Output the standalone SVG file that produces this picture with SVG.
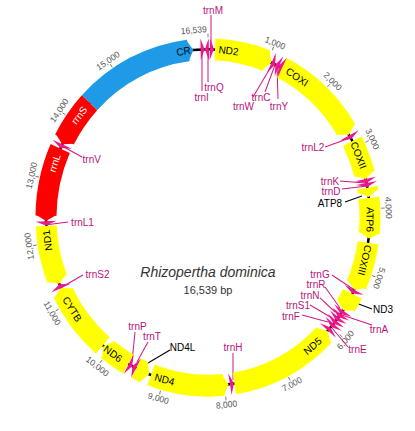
<svg xmlns="http://www.w3.org/2000/svg" xmlns:xlink="http://www.w3.org/1999/xlink" width="415" height="431" viewBox="0 0 415 431">
<style>
text{font-family:"Liberation Sans",Arial,sans-serif;text-anchor:middle}
.bd{fill:none;stroke-width:21}
.Y{stroke:#ffff00}.R{stroke:#ff0000}.B{stroke:#1e9ae6}
.hY{fill:#ffff00}.hR{fill:#ff0000}.hB{fill:#1e9ae6}
.t{fill:#ee168b}
.g{font-size:10px;fill:#000}
.w{font-size:10px;fill:#fff}
.tl{font-size:10px;fill:#b8137c}
.x{font-size:10px;fill:#000}
.k{font-size:8.5px;fill:#555}
.tk{stroke:#666;stroke-width:0.8}
.ln{stroke:#d0187f;stroke-width:1;fill:none}
.lk{stroke:#000;stroke-width:1.1;fill:none}
</style>
<defs>
<line id="tick" class="tk" x1="208" y1="32.4" x2="208" y2="36"/>
<polygon id="hcw" points="201.62,37.02 208,47.4 202.4,58"/>
<polygon id="hcc" points="214.38,37.02 208,47.4 213.6,58"/>
<polygon id="tcw" points="204,37 208,47.4 204,58"/>
<polygon id="tcc" points="212,37 208,47.4 212,58"/>
</defs>
<rect width="415" height="431" fill="#fff"/>
<g transform="scale(1,1.0386)">
<circle id="backbone" cx="208" cy="209.4" r="162" fill="none" stroke="#000" stroke-width="2.5"/>

<g id="ticks">
<use xlink:href="#tick"/>
<use xlink:href="#tick" transform="rotate(21.77 208 209.4)"/>
<use xlink:href="#tick" transform="rotate(43.53 208 209.4)"/>
<use xlink:href="#tick" transform="rotate(65.30 208 209.4)"/>
<use xlink:href="#tick" transform="rotate(87.06 208 209.4)"/>
<use xlink:href="#tick" transform="rotate(108.83 208 209.4)"/>
<use xlink:href="#tick" transform="rotate(130.59 208 209.4)"/>
<use xlink:href="#tick" transform="rotate(152.36 208 209.4)"/>
<use xlink:href="#tick" transform="rotate(174.13 208 209.4)"/>
<use xlink:href="#tick" transform="rotate(195.90 208 209.4)"/>
<use xlink:href="#tick" transform="rotate(217.66 208 209.4)"/>
<use xlink:href="#tick" transform="rotate(239.43 208 209.4)"/>
<use xlink:href="#tick" transform="rotate(261.19 208 209.4)"/>
<use xlink:href="#tick" transform="rotate(282.96 208 209.4)"/>
<use xlink:href="#tick" transform="rotate(304.72 208 209.4)"/>
<use xlink:href="#tick" transform="rotate(326.49 208 209.4)"/>
<text class="k" transform="rotate(-4.5 208 209.4)" x="208" y="28.4" dy=".35em">16,539</text>
<text class="k" transform="rotate(21.77 208 209.4)" x="208" y="28.4" dy=".35em">1,000</text>
<text class="k" transform="rotate(43.53 208 209.4)" x="208" y="28.4" dy=".35em">2,000</text>
<text class="k" transform="rotate(65.30 208 209.4)" x="208" y="28.4" dy=".35em">3,000</text>
<text class="k" transform="rotate(87.06 208 209.4)" x="208" y="28.4" dy=".35em">4,000</text>
<text class="k" transform="rotate(108.83 208 209.4)" x="208" y="28.4" dy=".35em">5,000</text>
<text class="k" transform="rotate(-49.41 208 209.4)" x="208" y="390.4" dy=".35em">6,000</text>
<text class="k" transform="rotate(-27.64 208 209.4)" x="208" y="390.4" dy=".35em">7,000</text>
<text class="k" transform="rotate(-5.87 208 209.4)" x="208" y="390.4" dy=".35em">8,000</text>
<text class="k" transform="rotate(15.90 208 209.4)" x="208" y="390.4" dy=".35em">9,000</text>
<text class="k" transform="rotate(37.66 208 209.4)" x="208" y="390.4" dy=".35em">10,000</text>
<text class="k" transform="rotate(59.43 208 209.4)" x="208" y="390.4" dy=".35em">11,000</text>
<text class="k" transform="rotate(261.19 208 209.4)" x="208" y="28.4" dy=".35em">12,000</text>
<text class="k" transform="rotate(282.96 208 209.4)" x="208" y="28.4" dy=".35em">13,000</text>
<text class="k" transform="rotate(304.72 208 209.4)" x="208" y="28.4" dy=".35em">14,000</text>
<text class="k" transform="rotate(326.49 208 209.4)" x="208" y="28.4" dy=".35em">15,000</text>
</g>

<g id="connectors">
<line class="ln" x1="211" y1="14.4" x2="211" y2="47.4"/>
<line class="ln" x1="202" y1="87.6" x2="202" y2="48"/>
<line class="ln" x1="208" y1="79" x2="208" y2="48"/>
<line class="ln" x1="253" y1="93.4" x2="272" y2="62.6"/>
<line class="ln" x1="265" y1="88.6" x2="275" y2="62.6"/>
<line class="ln" x1="278" y1="95.3" x2="277" y2="62.6"/>
<line class="ln" x1="325" y1="141.5" x2="350" y2="132.9"/>
<line class="ln" x1="340" y1="174.3" x2="365" y2="176.2"/>
<line class="ln" x1="342" y1="182" x2="367" y2="179"/>
<line class="lk" x1="345" y1="194.5" x2="362" y2="188.7"/>
<line class="ln" x1="332" y1="264.8" x2="353" y2="278.3"/>
<line class="ln" x1="325" y1="276.3" x2="340" y2="296.6"/>
<line class="ln" x1="320" y1="286.9" x2="335" y2="300.4"/>
<line class="ln" x1="310" y1="293.7" x2="332" y2="306.2"/>
<line class="ln" x1="302" y1="303.3" x2="328" y2="310"/>
<line class="lk" x1="356" y1="291.7" x2="372" y2="297.5"/>
<line class="ln" x1="372" y1="312.9" x2="342" y2="303.3"/>
<line class="ln" x1="348" y1="334.1" x2="332" y2="315.8"/>
<line class="ln" x1="233" y1="339.9" x2="233" y2="365.9"/>
<line class="lk" x1="170" y1="337" x2="148" y2="349.5"/>
<line class="ln" x1="135" y1="319.7" x2="132" y2="348.5"/>
<line class="ln" x1="148" y1="329.3" x2="137" y2="348.5"/>
<line class="ln" x1="83" y1="264.8" x2="62" y2="276.3"/>
<line class="ln" x1="68" y1="213.8" x2="45" y2="216.6"/>
<line class="ln" x1="82" y1="151.2" x2="62" y2="140.6"/>
</g>

<g id="CR"><circle class="bd B" cx="208" cy="209.4" r="162" pathLength="360" transform="rotate(-90 208 209.4)" stroke-dasharray="39.98 400" stroke-dashoffset="-313"/><use xlink:href="#hcw" class="hB" transform="rotate(354.8 208 209.4)"/><text class="g" transform="rotate(351.3 208 209.4)" x="208" y="47.4" dy=".35em">CR</text></g>
<g id="ND2"><circle class="bd Y" cx="208" cy="209.4" r="162" pathLength="360" transform="rotate(-90 208 209.4)" stroke-dasharray="18.68 400" stroke-dashoffset="-2.5"/><use xlink:href="#hcw" class="hY" transform="rotate(23 208 209.4)"/><text class="g" transform="rotate(7.3 208 209.4)" x="208" y="47.4" dy=".35em">ND2</text></g>
<g id="COXI"><circle class="bd Y" cx="208" cy="209.4" r="162" pathLength="360" transform="rotate(-90 208 209.4)" stroke-dasharray="31.68 400" stroke-dashoffset="-27"/><use xlink:href="#hcw" class="hY" transform="rotate(60.5 208 209.4)"/><text class="g" transform="rotate(33.4 208 209.4)" x="208" y="47.4" dy=".35em">COXI</text></g>
<g id="COXII"><circle class="bd Y" cx="208" cy="209.4" r="162" pathLength="360" transform="rotate(-90 208 209.4)" stroke-dasharray="11.98 400" stroke-dashoffset="-63"/><use xlink:href="#hcw" class="hY" transform="rotate(76.8 208 209.4)"/><text class="g" transform="rotate(68.3 208 209.4)" x="208" y="47.4" dy=".35em">COXII</text></g>
<g id="ATP8"><circle class="bd Y" cx="208" cy="209.4" r="162" pathLength="360" transform="rotate(-90 208 209.4)" stroke-dasharray="1.38 400" stroke-dashoffset="-79.8"/><use xlink:href="#hcw" class="hY" transform="rotate(83 208 209.4)"/><text class="x" x="330" y="195.5" dy=".35em">ATP8</text></g>
<g id="ATP6"><circle class="bd Y" cx="208" cy="209.4" r="162" pathLength="360" transform="rotate(-90 208 209.4)" stroke-dasharray="12.08 400" stroke-dashoffset="-83.3"/><use xlink:href="#hcw" class="hY" transform="rotate(97.2 208 209.4)"/><text class="g" transform="rotate(90.7 208 209.4)" x="208" y="47.4" dy=".35em">ATP6</text></g>
<g id="COXIII"><circle class="bd Y" cx="208" cy="209.4" r="162" pathLength="360" transform="rotate(-90 208 209.4)" stroke-dasharray="14.88 400" stroke-dashoffset="-98.7"/><use xlink:href="#hcw" class="hY" transform="rotate(115.4 208 209.4)"/><text class="g" transform="rotate(104.7 208 209.4)" x="208" y="47.4" dy=".35em">COXIII</text></g>
<g id="ND3"><circle class="bd Y" cx="208" cy="209.4" r="162" pathLength="360" transform="rotate(-90 208 209.4)" stroke-dasharray="4.68 400" stroke-dashoffset="-117"/><use xlink:href="#hcw" class="hY" transform="rotate(123.5 208 209.4)"/><text class="x" x="383" y="297.5" dy=".35em">ND3</text></g>
<g id="ND5"><circle class="bd Y" cx="208" cy="209.4" r="162" pathLength="360" transform="rotate(-90 208 209.4)" stroke-dasharray="36.38 400" stroke-dashoffset="-134.22"/><use xlink:href="#hcc" class="hY" transform="rotate(132.4 208 209.4)"/><text class="g" transform="rotate(-40.2 208 209.4)" x="208" y="371.4" dy=".35em">ND5</text></g>
<g id="ND4"><circle class="bd Y" cx="208" cy="209.4" r="162" pathLength="360" transform="rotate(-90 208 209.4)" stroke-dasharray="26.08 400" stroke-dashoffset="-174.52"/><use xlink:href="#hcc" class="hY" transform="rotate(172.7 208 209.4)"/><text class="g" transform="rotate(15.5 208 209.4)" x="208" y="371.4" dy=".35em">ND4</text></g>
<g id="ND4L"><circle class="bd Y" cx="208" cy="209.4" r="162" pathLength="360" transform="rotate(-90 208 209.4)" stroke-dasharray="3.18 400" stroke-dashoffset="-203.12"/><use xlink:href="#hcc" class="hY" transform="rotate(201.3 208 209.4)"/><text class="x" x="182.5" y="334.6" dy=".35em">ND4L</text></g>
<g id="ND6"><circle class="bd Y" cx="208" cy="209.4" r="162" pathLength="360" transform="rotate(-90 208 209.4)" stroke-dasharray="8.88 400" stroke-dashoffset="-209.5"/><use xlink:href="#hcw" class="hY" transform="rotate(220.2 208 209.4)"/><text class="g" transform="rotate(35.9 208 209.4)" x="208" y="371.4" dy=".35em">ND6</text></g>
<g id="CYTB"><circle class="bd Y" cx="208" cy="209.4" r="162" pathLength="360" transform="rotate(-90 208 209.4)" stroke-dasharray="22.98 400" stroke-dashoffset="-220.5"/><use xlink:href="#hcw" class="hY" transform="rotate(245.3 208 209.4)"/><text class="g" transform="rotate(57 208 209.4)" x="208" y="371.4" dy=".35em">CYTB</text></g>
<g id="ND1"><circle class="bd Y" cx="208" cy="209.4" r="162" pathLength="360" transform="rotate(-90 208 209.4)" stroke-dasharray="18.48 400" stroke-dashoffset="-248.62"/><use xlink:href="#hcc" class="hY" transform="rotate(246.8 208 209.4)"/><text class="g" transform="rotate(262.2 208 209.4)" x="208" y="47.4" dy=".35em">ND1</text></g>
<g id="rrnL"><circle class="bd R" cx="208" cy="209.4" r="162" pathLength="360" transform="rotate(-90 208 209.4)" stroke-dasharray="23.58 400" stroke-dashoffset="-270.62"/><use xlink:href="#hcc" class="hR" transform="rotate(268.8 208 209.4)"/><text class="w" transform="rotate(288.9 208 209.4)" x="208" y="47.4" dy=".35em">rrnL</text></g>
<g id="rrnS"><circle class="bd R" cx="208" cy="209.4" r="162" pathLength="360" transform="rotate(-90 208 209.4)" stroke-dasharray="15.38 400" stroke-dashoffset="-297.62"/><use xlink:href="#hcc" class="hR" transform="rotate(295.8 208 209.4)"/><text class="w" transform="rotate(307.4 208 209.4)" x="208" y="47.4" dy=".35em">rrnS</text></g>

<g id="trnI"><use xlink:href="#tcw" class="t" transform="rotate(358.8 208 209.4)"/><text class="tl" x="201.7" y="93.9" dy=".35em">trnI</text></g>
<g id="trnQ"><use xlink:href="#tcc" class="t" transform="rotate(358.9 208 209.4)"/><text class="tl" x="214" y="83.8" dy=".35em">trnQ</text></g>
<g id="trnM"><use xlink:href="#tcw" class="t" transform="rotate(2.1 208 209.4)"/><text class="tl" x="213" y="10.4" dy=".35em">trnM</text></g>
<g id="trnW"><use xlink:href="#tcw" class="t" transform="rotate(24.5 208 209.4)"/><text class="tl" x="243.5" y="102.1" dy=".35em">trnW</text></g>
<g id="trnC"><use xlink:href="#tcc" class="t" transform="rotate(24.6 208 209.4)"/><text class="tl" x="261" y="93.9" dy=".35em">trnC</text></g>
<g id="trnY"><use xlink:href="#tcc" class="t" transform="rotate(25.8 208 209.4)"/><text class="tl" x="279" y="102.1" dy=".35em">trnY</text></g>
<g id="trnL2"><use xlink:href="#tcw" class="t" transform="rotate(62.2 208 209.4)"/><text class="tl" x="313" y="142" dy=".35em">trnL2</text></g>
<g id="trnK"><use xlink:href="#tcw" class="t" transform="rotate(78.2 208 209.4)"/><text class="tl" x="330" y="174.3" dy=".35em">trnK</text></g>
<g id="trnD"><use xlink:href="#tcw" class="t" transform="rotate(79.6 208 209.4)"/><text class="tl" x="331" y="183.9" dy=".35em">trnD</text></g>
<g id="trnG"><use xlink:href="#tcw" class="t" transform="rotate(116.9 208 209.4)"/><text class="tl" x="320" y="263.8" dy=".35em">trnG</text></g>
<g id="trnA"><use xlink:href="#tcw" class="t" transform="rotate(125 208 209.4)"/><text class="tl" x="379" y="316.8" dy=".35em">trnA</text></g>
<g id="trnR"><use xlink:href="#tcw" class="t" transform="rotate(126.4 208 209.4)"/><text class="tl" x="316" y="273.4" dy=".35em">trnR</text></g>
<g id="trnN"><use xlink:href="#tcw" class="t" transform="rotate(127.8 208 209.4)"/><text class="tl" x="310" y="284.5" dy=".35em">trnN</text></g>
<g id="trnS1"><use xlink:href="#tcw" class="t" transform="rotate(129.2 208 209.4)"/><text class="tl" x="298" y="294.1" dy=".35em">trnS1</text></g>
<g id="trnE"><use xlink:href="#tcw" class="t" transform="rotate(130.6 208 209.4)"/><text class="tl" x="357.5" y="336" dy=".35em">trnE</text></g>
<g id="trnF"><use xlink:href="#tcc" class="t" transform="rotate(130.8 208 209.4)"/><text class="tl" x="291" y="304.3" dy=".35em">trnF</text></g>
<g id="trnH"><use xlink:href="#tcc" class="t" transform="rotate(170.8 208 209.4)"/><text class="tl" x="233" y="334.6" dy=".35em">trnH</text></g>
<g id="trnT"><use xlink:href="#tcw" class="t" transform="rotate(207.8 208 209.4)"/><text class="tl" x="152" y="323.5" dy=".35em">trnT</text></g>
<g id="trnP"><use xlink:href="#tcc" class="t" transform="rotate(207.9 208 209.4)"/><text class="tl" x="137.5" y="313.9" dy=".35em">trnP</text></g>
<g id="trnS2"><use xlink:href="#tcw" class="t" transform="rotate(246.6 208 209.4)"/><text class="tl" x="97.5" y="263.8" dy=".35em">trnS2</text></g>
<g id="trnL1"><use xlink:href="#tcc" class="t" transform="rotate(267.3 208 209.4)"/><text class="tl" x="82.5" y="214.2" dy=".35em">trnL1</text></g>
<g id="trnV"><use xlink:href="#tcc" class="t" transform="rotate(294.4 208 209.4)"/><text class="tl" x="91.7" y="153.1" dy=".35em">trnV</text></g>

<g id="title">
<text x="208" y="261.6" dy=".35em" font-size="14" font-style="italic" fill="#333">Rhizopertha dominica</text>
<text x="208" y="279.2" dy=".35em" font-size="11" fill="#333">16,539 bp</text>
</g>
</g>
</svg>
